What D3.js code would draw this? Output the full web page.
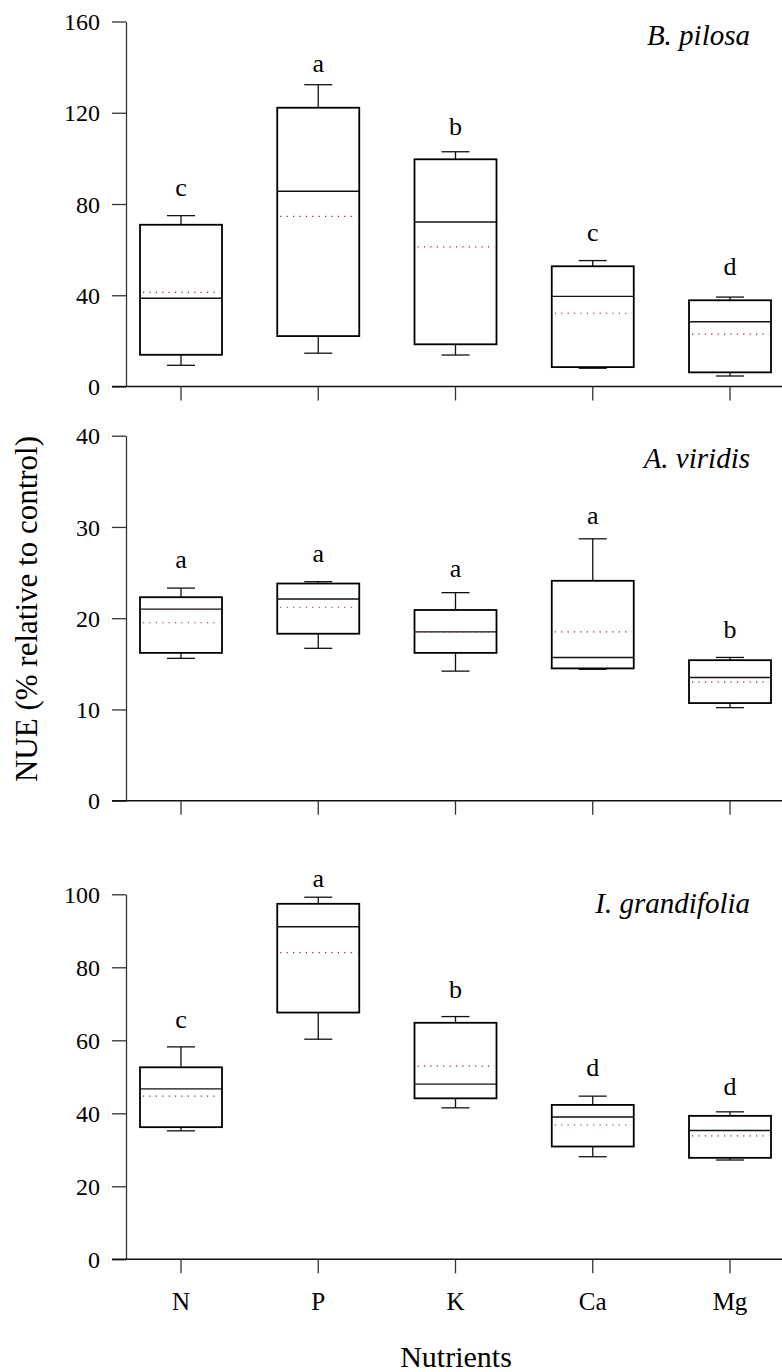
<!DOCTYPE html>
<html>
<head>
<meta charset="utf-8">
<script src="https://cdn.jsdelivr.net/npm/d3@7"></script>
<style>
  html, body { margin: 0; padding: 0; background: #fff; }
  svg text { font-family: "Liberation Serif", "Times New Roman", Times, serif !important; fill: #000; }
</style>
</head>
<body>
<svg id="chart" width="782" height="1372" font-family="Liberation Serif, Times New Roman, serif"></svg>
<script>
// Nutrient treatments on the shared x axis
const nutrients = ["N", "P", "K", "Ca", "Mg"];

// Box statistics per nutrient: [whisker low, Q1, median, Q3, whisker high, mean]
const bidensPilosa = [
  [9.3, 13.9, 38.7, 70.9, 74.9, 41.3],
  [14.6, 22.1, 85.6, 122.2, 132.3, 74.6],
  [13.8, 18.5, 72.1, 99.6, 102.9, 61.2],
  [8.0, 8.5, 39.5, 52.7, 55.2, 32.1],
  [4.6, 6.2, 28.4, 37.8, 39.2, 23.0]
];
const amaranthusViridis = [
  [15.6, 16.2, 21.0, 22.3, 23.3, 19.5],
  [16.7, 18.3, 22.1, 23.8, 24.0, 21.2],
  [14.2, 16.2, 18.5, 20.9, 22.8, 18.5],
  [14.4, 14.5, 15.7, 24.1, 28.7, 18.5],
  [10.2, 10.7, 13.5, 15.4, 15.7, 13.0]
];
const ipomoeaGrandifolia = [
  [35.2, 36.2, 46.7, 52.6, 58.2, 44.7],
  [60.3, 67.6, 91.1, 97.4, 99.2, 84.0],
  [41.5, 44.1, 48.0, 64.8, 66.5, 52.9],
  [28.1, 30.9, 39.0, 42.3, 44.7, 36.8],
  [27.2, 27.8, 35.3, 39.3, 40.4, 33.8]
];

// Significance letters and the value at which each one sits
const pilosaLetters = ["c", "a", "b", "c", "d"];
const pilosaLetterAt = [83.6, 138.0, 110.3, 63.9, 48.9];
const viridisLetters = ["a", "a", "a", "a", "b"];
const viridisLetterAt = [25.5, 26.2, 24.5, 30.3, 17.8];
const grandifoliaLetters = ["c", "a", "b", "d", "d"];
const grandifoliaLetterAt = [63.3, 102.1, 71.7, 50.3, 45.0];

// Y tick values per panel
const pilosaTicks = [0, 40, 80, 120, 160];
const viridisTicks = [0, 10, 20, 30, 40];
const grandifoliaTicks = [0, 20, 40, 60, 80, 100];

const yTitle = "NUE (% relative to control)";
const xTitle = "Nutrients";

const panels = [
  { species: "B. pilosa", stats: bidensPilosa, letters: pilosaLetters, letterAt: pilosaLetterAt,
    ticks: pilosaTicks, yRange: [386.5, 21.5], titleY: 45 },
  { species: "A. viridis", stats: amaranthusViridis, letters: viridisLetters, letterAt: viridisLetterAt,
    ticks: viridisTicks, yRange: [800.7, 435.7], titleY: 468 },
  { species: "I. grandifolia", stats: ipomoeaGrandifolia, letters: grandifoliaLetters, letterAt: grandifoliaLetterAt,
    ticks: grandifoliaTicks, yRange: [1259.3, 894.3], titleY: 913 }
];

const SERIF = "Liberation Serif, Times New Roman, serif";
const svg = d3.select("#chart");
const axisX = 126;       // position of the vertical axis
const rightEdge = 782;
const boxW = 82;
const capW = 28;

const x = d3.scalePoint().domain(nutrients).range([181, 730]);

panels.forEach((p, pi) => {
  const y = d3.scaleLinear().domain([0, d3.max(p.ticks)]).range(p.yRange);
  const g = svg.append("g");

  // Y axis
  const yAxis = d3.axisLeft(y).tickValues(p.ticks).tickSize(14).tickPadding(12).tickSizeOuter(0);
  const ya = g.append("g").attr("transform", `translate(${axisX},0)`).call(yAxis)
    .attr("font-family", SERIF).attr("font-size", 24);
  ya.select(".domain").attr("stroke", "#333").attr("stroke-width", 1.3);
  ya.selectAll(".tick line").attr("stroke", "#333").attr("stroke-width", 1.3);
  ya.selectAll(".tick text").style("font-family", SERIF).style("font-size", "24px")
    .attr("fill", "#000").attr("dy", "0.34em");

  // X axis baseline spanning to the right edge, with downward ticks
  const base = y(0);
  g.append("line").attr("x1", axisX - 14).attr("x2", rightEdge)
    .attr("y1", base).attr("y2", base).attr("stroke", "#111").attr("stroke-width", 1.5);
  g.selectAll(".xtick").data(nutrients).enter().append("line")
    .attr("x1", d => x(d)).attr("x2", d => x(d))
    .attr("y1", base).attr("y2", base + 14)
    .attr("stroke", "#333").attr("stroke-width", 1.3);

  // Boxes
  const boxes = g.selectAll(".box").data(p.stats).enter().append("g");
  const cx = (d, i) => x(nutrients[i]);

  // whisker stems
  boxes.append("line")
    .attr("x1", cx).attr("x2", cx)
    .attr("y1", d => y(d[3])).attr("y2", d => y(d[4]))
    .attr("stroke", "#111").attr("stroke-width", 1.3);
  boxes.append("line")
    .attr("x1", cx).attr("x2", cx)
    .attr("y1", d => y(d[1])).attr("y2", d => y(d[0]))
    .attr("stroke", "#111").attr("stroke-width", 1.3);
  // whisker caps
  boxes.append("line")
    .attr("x1", (d, i) => cx(d, i) - capW / 2).attr("x2", (d, i) => cx(d, i) + capW / 2)
    .attr("y1", d => y(d[4])).attr("y2", d => y(d[4]))
    .attr("stroke", "#111").attr("stroke-width", 1.3);
  boxes.append("line")
    .attr("x1", (d, i) => cx(d, i) - capW / 2).attr("x2", (d, i) => cx(d, i) + capW / 2)
    .attr("y1", d => y(d[0])).attr("y2", d => y(d[0]))
    .attr("stroke", "#111").attr("stroke-width", 1.3);
  // interquartile box
  boxes.append("rect")
    .attr("x", (d, i) => cx(d, i) - boxW / 2)
    .attr("y", d => y(d[3]))
    .attr("width", boxW)
    .attr("height", d => y(d[1]) - y(d[3]))
    .attr("fill", "#fff").attr("stroke", "#000").attr("stroke-width", 1.8);
  // median
  boxes.append("line")
    .attr("x1", (d, i) => cx(d, i) - boxW / 2).attr("x2", (d, i) => cx(d, i) + boxW / 2)
    .attr("y1", d => y(d[2])).attr("y2", d => y(d[2]))
    .attr("stroke", "#111").attr("stroke-width", 1.4);
  // mean (dotted)
  boxes.append("line")
    .attr("x1", (d, i) => cx(d, i) - boxW / 2 + 3).attr("x2", (d, i) => cx(d, i) + boxW / 2 - 2)
    .attr("y1", d => y(d[5])).attr("y2", d => y(d[5]))
    .attr("stroke", "#7a2a3a").attr("stroke-width", 1.2)
    .attr("stroke-dasharray", "1.2,5.2");

  // Significance letters
  g.selectAll(".letter").data(p.letters).enter().append("text")
    .attr("x", (d, i) => x(nutrients[i]))
    .attr("y", (d, i) => y(p.letterAt[i]))
    .attr("text-anchor", "middle")
    .style("font-size", "26px")
    .text(d => d);

  // Species name
  g.append("text")
    .attr("x", 750).attr("y", p.titleY)
    .attr("text-anchor", "end")
    .style("font-size", "29px")
    .style("font-style", "italic")
    .text(p.species);

  // Category labels under the bottom panel only
  if (pi === panels.length - 1) {
    g.selectAll(".xlab").data(nutrients).enter().append("text")
      .attr("x", d => x(d)).attr("y", 1310)
      .attr("text-anchor", "middle")
      .style("font-size", "25px")
      .text(d => d);
  }
});

// Axis titles
svg.append("text")
  .attr("transform", "translate(37,609) rotate(-90)")
  .attr("text-anchor", "middle")
  .style("font-size", "31px")
  .text(yTitle);

svg.append("text")
  .attr("x", 456).attr("y", 1367)
  .attr("text-anchor", "middle")
  .style("font-size", "30px")
  .text(xTitle);
</script>
</body>
</html>
